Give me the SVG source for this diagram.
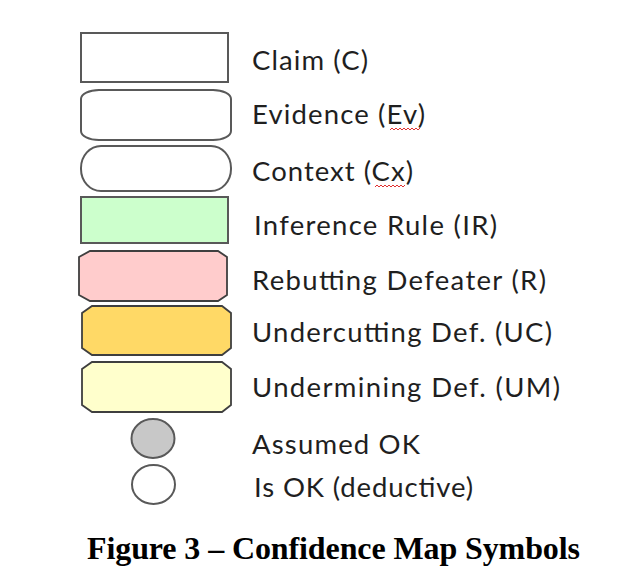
<svg xmlns="http://www.w3.org/2000/svg" width="643" height="581" viewBox="0 0 643 581">
<style>
.shape{stroke:#595959;stroke-width:2;fill:#ffffff}
.chamf{stroke:#3f3f3f;stroke-width:1.8}
.lbl{font-family:Lato,"Open Sans","Liberation Sans",sans-serif;font-size:27.5px;fill:#1f1f1f}
.cap{font-family:"Liberation Serif","Times New Roman",serif;font-size:32px;font-weight:bold;fill:#000}
.squig{fill:none;stroke:#e03030;stroke-width:1}
</style>
<rect width="643" height="581" fill="#ffffff"/>
<g id="claim">
<rect class="shape" x="81" y="33" width="147" height="49"/>
<text class="lbl" x="252" y="70" textLength="116">Claim (C)</text>
</g>
<g id="evidence">
<path class="shape" d="M99,90 H213 A18,9 0 0 1 231,99 V131 A18,9 0 0 1 213,140 H99 A18,9 0 0 1 81,131 V99 A18,9 0 0 1 99,90 Z"/>
<text class="lbl" x="252" y="124" textLength="173">Evidence (Ev)</text>
<polyline class="squig" points="390,130 392,128 394,130 396,128 398,130 400,128 402,130 404,128 406,130 408,128 410,130 412,128 414,130 416,128 418,130 420,128"/>
</g>
<g id="context">
<rect class="shape" x="81" y="146" width="150" height="45" rx="20" ry="22"/>
<text class="lbl" x="252" y="181" textLength="161">Context (Cx)</text>
<polyline class="squig" points="375,187 377,185 379,187 381,185 383,187 385,185 387,187 389,185 391,187 393,185 395,187 397,185 399,187 401,185 403,187 405,185"/>
</g>
<g id="inference-rule">
<rect class="shape" x="81" y="197" width="147" height="46" style="fill:#ccffcc"/>
<text class="lbl" x="254" y="235" textLength="243">Inference Rule (IR)</text>
</g>
<g id="rebutting">
<polygon class="chamf" fill="#ffcccc" points="90,251 218,251 227,257 227,295 218,301 90,301 79,295 79,257"/>
<text class="lbl" x="252" y="290" textLength="294">Rebutting Defeater (R)</text>
</g>
<g id="undercutting">
<polygon class="chamf" fill="#ffd966" points="92,306 222,306 231,313 231,348 222,355 92,355 82,348 82,313"/>
<text class="lbl" x="252" y="342" textLength="300">Undercutting Def. (UC)</text>
</g>
<g id="undermining">
<polygon class="chamf" fill="#ffffcc" points="92,362 222,362 231,369 231,405 222,412 92,412 82,405 82,369"/>
<text class="lbl" x="252" y="397" textLength="308">Undermining Def. (UM)</text>
</g>
<g id="assumed-ok">
<ellipse class="shape" cx="153" cy="438.5" rx="21.5" ry="19.5" style="fill:#c8c8c8"/>
<text class="lbl" x="252" y="454" textLength="168">Assumed OK</text>
</g>
<g id="is-ok">
<ellipse class="shape" cx="153.5" cy="484.5" rx="21.5" ry="19.5"/>
<text class="lbl" x="254" y="497" textLength="219">Is OK (deductive)</text>
</g>
<g id="connectors"/>
<text class="cap" x="87" y="559" textLength="493">Figure 3 – Confidence Map Symbols</text>
</svg>
